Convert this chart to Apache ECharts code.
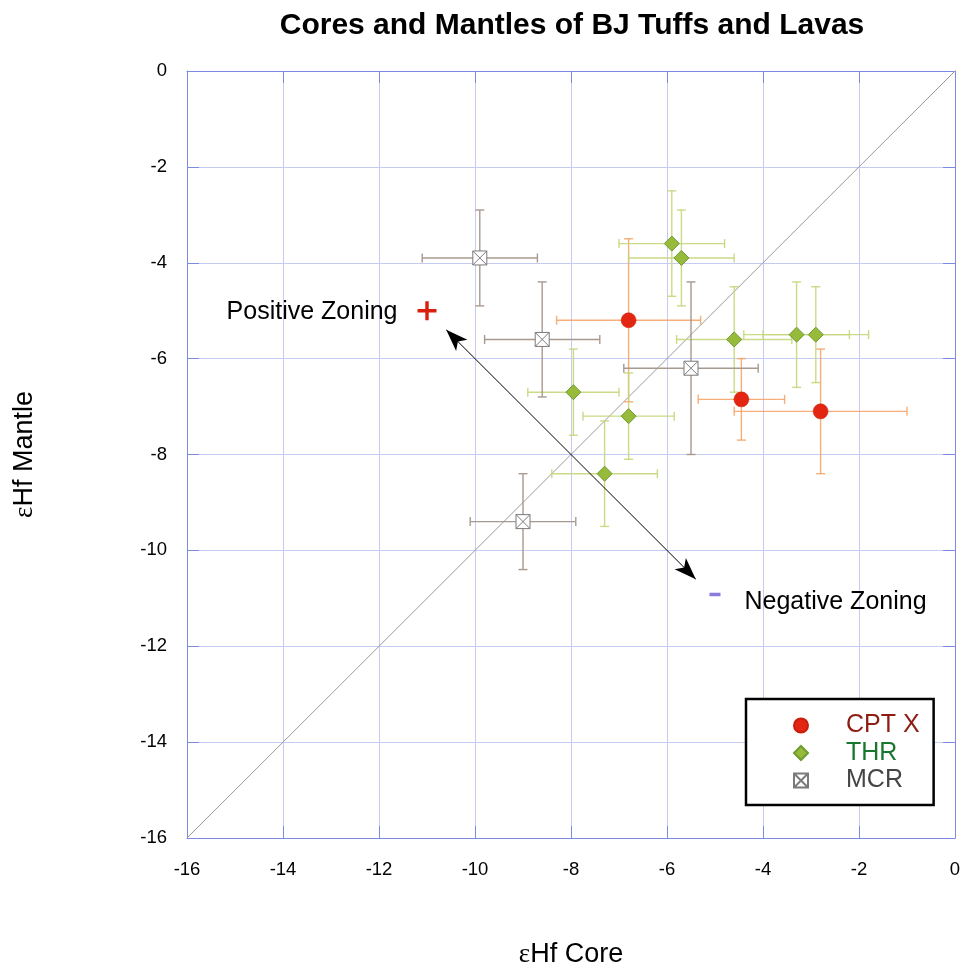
<!DOCTYPE html>
<html>
<head>
<meta charset="utf-8">
<script src="https://cdn.jsdelivr.net/npm/echarts@6/dist/echarts.min.js"></script>
<style>
  html, body { margin: 0; padding: 0; background: #fff; }
  #chart { width: 962px; height: 970px; }
</style>
</head>
<body>
<div id="chart"></div>
<script>
// Core vs mantle εHf of zircons from BJ tuffs and lavas
const axisTicks = [-16, -14, -12, -10, -8, -6, -4, -2, 0];

// CPT X
const cptCore = [-6.8, -4.45, -2.8];
const cptMantle = [-5.2, -6.85, -7.1];
const cptCoreErr = [1.5, 0.9, 1.8];
const cptMantleErr = [1.7, 0.85, 1.3];

// THR
const thrCore = [-5.9, -5.7, -4.6, -3.3, -2.9, -7.95, -6.8, -7.3];
const thrMantle = [-3.6, -3.9, -5.6, -5.5, -5.5, -6.7, -7.2, -8.4];
const thrCoreErr = [1.1, 1.1, 1.2, 1.1, 1.1, 0.95, 0.95, 1.1];
const thrMantleErr = [1.1, 1.0, 1.1, 1.1, 1.0, 0.9, 0.9, 1.1];

// MCR
const mcrCore = [-9.9, -8.6, -5.5, -9.0];
const mcrMantle = [-3.9, -5.6, -6.2, -9.4];
const mcrCoreErr = [1.2, 1.2, 1.4, 1.1];
const mcrMantleErr = [1.0, 1.2, 1.8, 1.0];

// 1:1 reference line, zoning arrow and zoning markers
const equalLine = [[-16, -16], [0, 0]];
const arrowFrom = [-10.6, -5.4];
const arrowTo = [-5.4, -10.6];
const positiveMark = [-11, -5.0];
const negativeMark = [-5, -10.92];

const FONT = '"Liberation Sans", Arial, sans-serif';
const AXIS_BLUE = '#7d8ae2';
const GRID_BLUE = '#c6ccf1';

function pairs(xs, ys) { return xs.map((x, i) => [x, ys[i]]); }
function errRows(xs, ys, ex, ey) { return xs.map((x, i) => [x, ys[i], ex[i], ey[i]]); }

function errorBarSeries(name, rows, color) {
  return {
    type: 'custom',
    name: name,
    silent: true,
    z: 2,
    data: rows,
    encode: { x: 0, y: 1 },
    renderItem: function (params, api) {
      const x = api.value(0), y = api.value(1), ex = api.value(2), ey = api.value(3);
      const l = api.coord([x - ex, y]);
      const r = api.coord([x + ex, y]);
      const t = api.coord([x, y + ey]);
      const b = api.coord([x, y - ey]);
      const cap = 4.5;
      const style = { stroke: color, lineWidth: 1.4, fill: null };
      const seg = (x1, y1, x2, y2) => ({ type: 'line', shape: { x1, y1, x2, y2 }, style });
      return {
        type: 'group',
        children: [
          seg(l[0], l[1], r[0], r[1]),
          seg(l[0], l[1] - cap, l[0], l[1] + cap),
          seg(r[0], r[1] - cap, r[0], r[1] + cap),
          seg(t[0], t[1], b[0], b[1]),
          seg(t[0] - cap, t[1], t[0] + cap, t[1]),
          seg(b[0] - cap, b[1], b[0] + cap, b[1])
        ]
      };
    }
  };
}

const boxCross = 'path://M0,0L20,0L20,20L0,20Z M0,0L20,20 M20,0L0,20';
const plusPath = 'path://M8.2,0H11.8V8.2H20V11.8H11.8V20H8.2V11.8H0V8.2H8.2Z';

const valueAxis = (extra) => Object.assign({
  type: 'value',
  min: -16,
  max: 0,
  interval: 2,
  axisLine: { show: true, onZero: false, lineStyle: { color: AXIS_BLUE, width: 1 } },
  axisTick: { show: true, inside: true, length: 12, lineStyle: { color: AXIS_BLUE } },
  splitLine: { show: true, lineStyle: { color: GRID_BLUE, width: 1 } },
  axisLabel: { show: true, color: '#000', fontSize: 18.5, fontFamily: FONT, margin: 20 }
}, extra);

const chart = echarts.init(document.getElementById('chart'), null, { renderer: 'canvas' });

chart.setOption({
  animation: false,
  backgroundColor: '#fff',
  title: {
    text: 'Cores and Mantles of BJ Tuffs and Lavas',
    left: 567,
    textAlign: 'center',
    top: 6,
    textStyle: { fontSize: 30, fontWeight: 'bold', color: '#000', fontFamily: FONT }
  },
  grid: { left: 187, right: 7, top: 71, bottom: 132, containLabel: false, outerBoundsMode: 'none' },
  xAxis: [
    valueAxis({
      position: 'bottom',
      name: '{e|ε}Hf Core',
      nameLocation: 'middle',
      nameGap: 103,
      nameTextStyle: {
        fontSize: 27, color: '#000', fontFamily: FONT,
        rich: { e: { fontSize: 27, fontFamily: '"Liberation Serif", serif', color: '#000' } }
      },
      axisLabel: { show: true, color: '#000', fontSize: 18.5, fontFamily: FONT, margin: 22.5 }
    }),
    valueAxis({ position: 'top', axisLabel: { show: false }, splitLine: { show: false } })
  ],
  yAxis: [
    valueAxis({
      position: 'left',
      name: '{e|ε}Hf Mantle',
      nameLocation: 'middle',
      nameGap: 149,
      nameRotate: 90,
      nameTextStyle: {
        fontSize: 27, color: '#000', fontFamily: FONT,
        rich: { e: { fontSize: 27, fontFamily: '"Liberation Serif", serif', color: '#000' } }
      }
    }),
    valueAxis({ position: 'right', axisLabel: { show: false }, splitLine: { show: false } })
  ],
  legend: {
    orient: 'vertical',
    left: 746,
    top: 699,
    padding: [14, 14, 12, 47],
    itemWidth: 14,
    itemHeight: 14,
    itemGap: 2.5,
    backgroundColor: '#fff',
    borderColor: '#000',
    borderWidth: 2.5,
    borderRadius: 0,
    textStyle: { fontSize: 25, fontFamily: FONT, lineHeight: 25, padding: [0, 0, 0, 33] },
    data: [
      { name: 'CPT X', textStyle: { color: '#8e1c12' } },
      { name: 'THR', textStyle: { color: '#16782e' } },
      { name: 'MCR', textStyle: { color: '#444444' } }
    ]
  },
  series: [
    {
      type: 'line',
      name: 'equal',
      data: equalLine,
      symbol: 'none',
      silent: true,
      z: 1,
      lineStyle: { color: '#9a9a9a', width: 1 }
    },
    errorBarSeries('CPT X err', errRows(cptCore, cptMantle, cptCoreErr, cptMantleErr), 'rgba(246,160,96,0.85)'),
    errorBarSeries('THR err', errRows(thrCore, thrMantle, thrCoreErr, thrMantleErr), 'rgba(196,214,122,0.9)'),
    errorBarSeries('MCR err', errRows(mcrCore, mcrMantle, mcrCoreErr, mcrMantleErr), '#a8998f'),
    {
      type: 'lines',
      name: 'zoning',
      coordinateSystem: 'cartesian2d',
      silent: true,
      z: 3,
      symbol: ['arrow', 'arrow'],
      symbolSize: [[12, 22], [12, 22]],
      lineStyle: { color: '#000', width: 1, opacity: 1 },
      data: [{ coords: [arrowFrom, arrowTo] }]
    },
    {
      type: 'scatter',
      name: 'CPT X',
      z: 5,
      symbol: 'circle',
      symbolSize: 15,
      itemStyle: { color: '#e32612', borderColor: '#c91e0c', borderWidth: 0.5, opacity: 1 },
      data: pairs(cptCore, cptMantle)
    },
    {
      type: 'scatter',
      name: 'THR',
      z: 5,
      symbol: 'diamond',
      symbolSize: 15,
      itemStyle: { color: '#97ba3a', borderColor: '#6c9c30', borderWidth: 1, opacity: 1 },
      data: pairs(thrCore, thrMantle)
    },
    {
      type: 'scatter',
      name: 'MCR',
      z: 5,
      symbol: boxCross,
      symbolSize: 14,
      itemStyle: { color: '#ffffff', borderColor: '#7a7a7a', borderWidth: 1, opacity: 1 },
      data: pairs(mcrCore, mcrMantle)
    },
    {
      type: 'scatter',
      name: 'positive',
      silent: true,
      z: 5,
      symbol: plusPath,
      symbolSize: 19,
      itemStyle: { color: '#d9200c', opacity: 1 },
      label: {
        show: true, position: 'left', distance: 20, offset: [0, 1],
        formatter: 'Positive Zoning', color: '#000', fontSize: 25, fontFamily: FONT
      },
      data: [positiveMark]
    },
    {
      type: 'scatter',
      name: 'negative',
      silent: true,
      z: 5,
      symbol: 'rect',
      symbolSize: [11, 3.5],
      itemStyle: { color: '#8b7bdd', opacity: 1 },
      label: {
        show: true, position: 'right', distance: 24, offset: [0, 8],
        formatter: 'Negative Zoning', color: '#000', fontSize: 25, fontFamily: FONT
      },
      data: [negativeMark]
    }
  ]
});
</script>
</body>
</html>
